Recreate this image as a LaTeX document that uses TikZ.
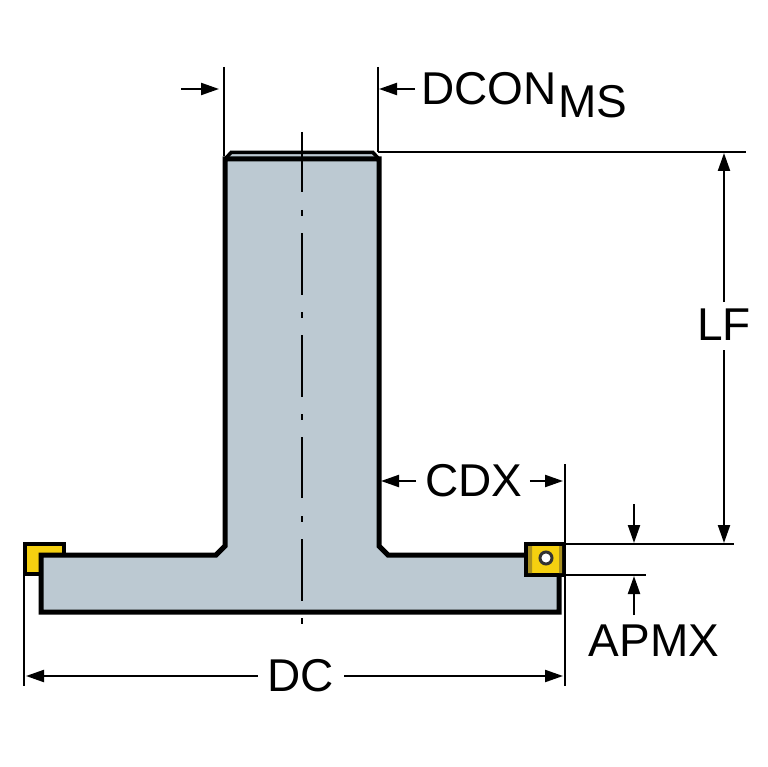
\documentclass[tikz,border=0pt]{standalone}
\usepackage{fontspec}
\setmainfont{Liberation Sans}
\usetikzlibrary{arrows.meta}
\definecolor{steel}{HTML}{BCC9D2}
\definecolor{insert}{HTML}{F5D010}
\definecolor{insertdark}{HTML}{A89020}
\tikzset{
  x=1pt,y=-1pt,
  outline/.style={draw=black,line width=5pt,line join=miter},
  dimline/.style={draw=black,line width=2.2pt},
  arrowline/.style={draw=black,line width=2.2pt,-{Triangle[length=18pt,width=12pt]}},
  centre/.style={draw=black,line width=2.4pt},
  lab/.style={font=\fontsize{46}{46}\selectfont,inner sep=0pt,text=black},
  sublab/.style={font=\fontsize{46}{46}\selectfont,inner sep=0pt,text=black},
  insertbox/.style={draw=black,fill=insert,line width=4pt}
}
\begin{document}
\begin{tikzpicture}
\useasboundingbox (0,0) rectangle (767,767);
\fill[white] (0,0) rectangle (767,767);
% left insert
\draw[insertbox] (25,544) rectangle (64,574);
% body
\draw[draw=black,fill=steel,line width=3.5pt] (226,158) -- (231,152.5) -- (373,152.5) -- (378,158);
\draw[outline,fill=steel] (41,555) -- (216,555) -- (225,546) -- (225,159) -- (379,159) -- (379,546) -- (388,555) -- (559,555) -- (559,612) -- (41,612) -- cycle;
% right insert
\draw[insertbox] (526,544) rectangle (564,575);
\fill[insertdark] (528,546) rectangle (532,573) (559,546) rectangle (562,573);
\draw[line width=3pt,draw=black!80,fill=white] (546,558) circle (6);
% centre line
\coordinate (c1) at (302,132); \coordinate (c2) at (302,192);
\coordinate (c3) at (302,210); \coordinate (c4) at (302,216);
\coordinate (c5) at (302,233); \coordinate (c6) at (302,295);
\coordinate (c7) at (302,312); \coordinate (c8) at (302,318);
\coordinate (c9) at (302,335); \coordinate (c10) at (302,397);
\coordinate (c11) at (302,414); \coordinate (c12) at (302,420);
\coordinate (c13) at (302,437); \coordinate (c14) at (302,498);
\coordinate (c15) at (302,516); \coordinate (c16) at (302,522);
\coordinate (c17) at (302,539); \coordinate (c18) at (302,601);
\coordinate (c19) at (302,618); \coordinate (c20) at (302,624);
\draw[centre] (c1)--(c2) (c3)--(c4) (c5)--(c6) (c7)--(c8) (c9)--(c10) (c11)--(c12) (c13)--(c14) (c15)--(c16) (c17)--(c18) (c19)--(c20);
% extension lines
\coordinate (e1a) at (224,67); \coordinate (e1b) at (224,156);
\coordinate (e2a) at (378,67); \coordinate (e2b) at (378,152);
\coordinate (e3a) at (378,152); \coordinate (e3b) at (746,152);
\coordinate (e4a) at (564,544); \coordinate (e4b) at (734,544);
\coordinate (e5a) at (564,575); \coordinate (e5b) at (646,575);
\coordinate (e6a) at (565,464); \coordinate (e6b) at (565,686);
\coordinate (e7a) at (24,575); \coordinate (e7b) at (24,686);
\draw[dimline] (e1a)--(e1b) (e2a)--(e2b) (e3a)--(e3b) (e4a)--(e4b) (e5a)--(e5b) (e6a)--(e6b) (e7a)--(e7b);
% DCON
\coordinate (d1) at (181,89); \coordinate (d2) at (219,89);
\coordinate (d3) at (415,89); \coordinate (d4) at (379,89);
\draw[arrowline] (d1)--(d2);
\draw[arrowline] (d3)--(d4);
\node[lab,anchor=base west] (dcon) at (421,105) {DCON};
\node[sublab,anchor=base west] (ms) at (558,118) {MS};
% LF
\node[lab] (lf) at (724,325) {LF};
\coordinate (lft) at (724,153); \coordinate (lfb) at (724,543);
\draw[arrowline] (lf.north |- 0,302)--(lft);
\draw[arrowline] (lf.south |- 0,350)--(lfb);
% CDX
\node[lab] (cdx) at (474,481) {CDX};
\coordinate (cl) at (381,481); \coordinate (cr) at (563,481);
\draw[arrowline] (cdx.west)++(-9,0)--(cl);
\draw[arrowline] (cdx.east)++(7,0)--(cr);
% APMX
\node[lab] (apmx) at (654,641) {APMX};
\coordinate (a1) at (634,504); \coordinate (a2) at (634,543);
\coordinate (a3) at (634,615); \coordinate (a4) at (634,576);
\draw[arrowline] (a1)--(a2);
\draw[arrowline] (a3)--(a4);
% DC
\node[lab] (dc) at (301,676) {DC};
\coordinate (dl) at (26,676); \coordinate (dr) at (563,676);
\draw[arrowline] (dc.west)++(-10,0)--(dl);
\draw[arrowline] (dc.east)++(10,0)--(dr);
\end{tikzpicture}
\end{document}
